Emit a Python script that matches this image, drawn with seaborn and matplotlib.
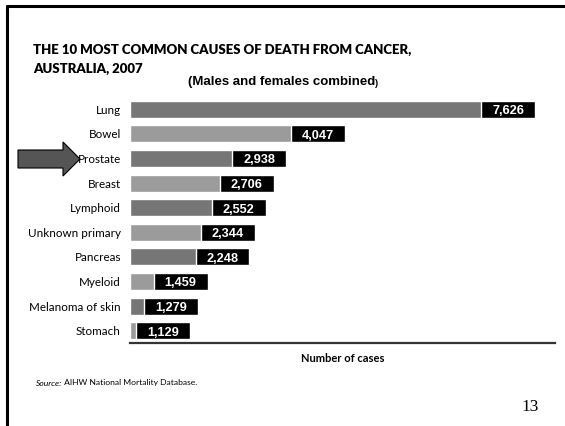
import matplotlib
matplotlib.use("Agg")
import matplotlib.pyplot as plt
import seaborn as sns
import numpy as np
import pandas as pd
from matplotlib.patches import Polygon
from matplotlib.lines import Line2D

categories = ["Lung", "Bowel", "Prostate", "Breast", "Lymphoid", "Unknown primary",
              "Pancreas", "Myeloid", "Melanoma of skin", "Stomach"]
cases = [7626, 4047, 2938, 2706, 2552, 2344, 2248, 1459, 1279, 1129]
value_labels = ["7,626", "4,047", "2,938", "2,706", "2,552", "2,344", "2,248", "1,459", "1,279", "1,129"]

title_line1 = "THE 10 MOST COMMON CAUSES OF DEATH FROM CANCER,"
title_line2 = "AUSTRALIA, 2007"
subtitle_text = "(Males and females combined"
xlabel_text = "Number of cases"
source_italic = "Source:"
source_text = " AIHW National Mortality Database."
page_no = "13"

df = pd.DataFrame({"cause": categories, "cases": cases})

sns.set_theme(style="white")
NARROW = ["Lato", "DejaVu Sans"]
ARIAL = ["Liberation Sans", "DejaVu Sans"]
plt.rcParams["font.family"] = ARIAL

W, H = 565, 426
fig = plt.figure(figsize=(W / 100, H / 100), dpi=100)
fig.patch.set_facecolor("white")
ax = fig.add_axes([130 / W, 1 - 343 / H, (555 - 130) / W, (343 - 97) / H])

dark, light = "#767676", "#9b9b9b"
palette = [dark if i % 2 == 0 else light for i in range(len(categories))]
bar_h = 0.69
sns.barplot(data=df, x="cases", y="cause", hue="cause", palette=palette,
            legend=False, width=bar_h, orient="h", ax=ax, saturation=1)

box_w = 1010
vals = np.array(cases)
ypos = np.arange(len(categories))
ax.barh(ypos, np.minimum(box_w, vals), left=vals - np.minimum(box_w, vals),
        height=bar_h, color="black")
for y, v, lab in zip(ypos, vals, value_labels):
    ax.text(v - box_w / 2, y + 0.08, lab, color="white", fontsize=9.2,
            fontweight="bold", ha="center", va="center", family=ARIAL)

ax.set_xlim(0, 8000)
ax.set_ylim(9.5, -0.5)
ax.set_xticks([])
ax.set_ylabel("")
ax.set_xlabel(xlabel_text, fontsize=8, fontweight="bold", family=NARROW,
              labelpad=7, color="black")
for s in ["top", "right", "left"]:
    ax.spines[s].set_visible(False)
ax.spines["bottom"].set_color("#333333")
ax.spines["bottom"].set_linewidth(1.6)
ax.tick_params(axis="y", length=0, pad=6.5)
for t in ax.get_yticklabels():
    t.set_fontsize(8.4)
    t.set_family(NARROW)
    t.set_color("black")

# titles
fig.text(33 / W, 1 - 54 / H, title_line1, fontsize=9.5, fontweight="heavy",
         family=NARROW, ha="left", va="baseline", color="black")
fig.text(33 / W, 1 - 73 / H, title_line2, fontsize=9.5, fontweight="heavy",
         family=NARROW, ha="left", va="baseline", color="black")
sub = fig.text(188 / W, 1 - 82 / H, subtitle_text, fontsize=9.5, fontweight="bold",
               ha="left", va="center", color="black")
fig.canvas.draw()
bb = sub.get_window_extent()
fig.text(bb.x1 / W, 1 - 83 / H, ")", fontsize=6.5, fontweight="bold",
         ha="left", va="center", color="black")

# source
t1 = fig.text(36 / W, 1 - 383 / H, source_italic, fontsize=6.1, style="italic",
              family=NARROW, ha="left", va="center", color="black")
fig.canvas.draw()
bb = t1.get_window_extent()
fig.text(bb.x1 / W, 1 - 383 / H, source_text, fontsize=6.1,
         family=NARROW, ha="left", va="center", color="black")

fig.text(530 / W, 1 - 407 / H, page_no, fontsize=12.5,
         family=["Liberation Serif", "DejaVu Serif"], ha="center", va="center",
         color="black")

# arrow pointing at Prostate
pts = [(18, 150), (63, 150), (63, 142), (80, 159), (63, 176), (63, 168), (18, 168)]
arrow = Polygon([(x / W, 1 - y / H) for x, y in pts], closed=True,
                transform=fig.transFigure, facecolor="#555555", edgecolor="black",
                linewidth=0.8)
fig.patches.append(arrow)

# slide border
fig.lines.append(Line2D([7 / W, 1], [1 - 6 / H, 1 - 6 / H], transform=fig.transFigure,
                        color="black", linewidth=2.2))
fig.lines.append(Line2D([7 / W, 7 / W], [0, 1 - 6 / H], transform=fig.transFigure,
                        color="black", linewidth=2.2))

fig.savefig("out.png", dpi=100, facecolor="white")
